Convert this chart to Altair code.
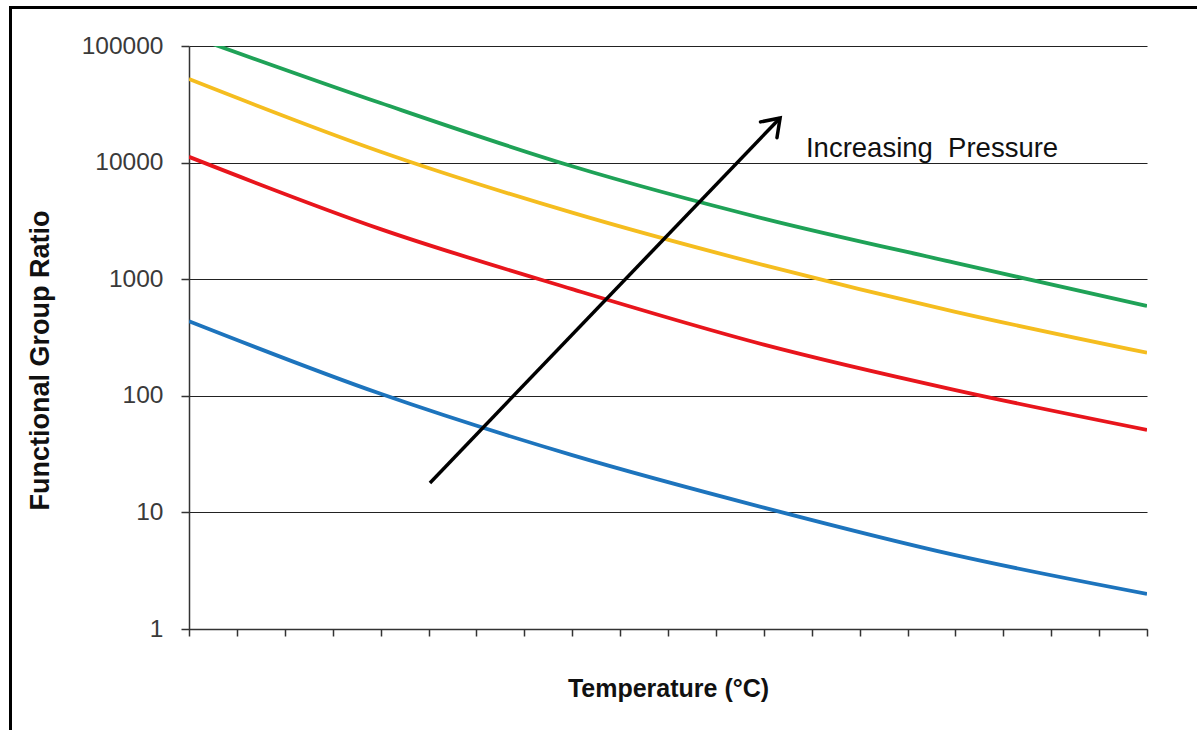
import altair as alt
import pandas as pd

# ---- data ----
temp_idx = [0, 4, 8, 12, 16, 20]
green = [123000, 32400, 9300, 3310, 1380, 590]
yellow = [52100, 12400, 3720, 1320, 525, 234]
red = [11200, 2690, 822, 275, 112, 51]
blue = [436, 104, 31, 11, 4.3, 2.0]

series_names = ["s4", "s3", "s2", "s1"]
series_colors = ["#1fa257", "#f5bd1f", "#e8151c", "#1d74bd"]

x_ticks = list(range(0, 21))
y_ticks = [1, 10, 100, 1000, 10000, 100000]

arrow_x = [5.03, 12.34]
arrow_y = [17.9, 24150]
arrow_angle = [43.8]

label_text = ["Increasing\u00a0 Pressure"]
label_x = [12.88]
label_y = [11170]

rows = []
for name, vals in zip(series_names, [green, yellow, red, blue]):
    for t, v in zip(temp_idx, vals):
        rows.append({"series": name, "t": t, "v": v})
df = pd.DataFrame(rows)

FONT = "Liberation Sans"

xscale = alt.Scale(domain=[0, 20], nice=False, zero=False)
yscale = alt.Scale(type="log", domain=[1, 100000], nice=False)

lines = alt.Chart(df).mark_line(strokeWidth=3.8, clip=True, interpolate="monotone").encode(
    x=alt.X("t:Q", scale=xscale,
            axis=alt.Axis(values=x_ticks, labels=False, grid=False, tickSize=7,
                          tickColor="#333", tickWidth=1.5, domainColor="#333", domainWidth=1.5,
                          title="Temperature (\u00b0C)", titleFont=FONT, titleFontSize=25,
                          titleFontWeight="bold", titleColor="#111", titlePadding=40)),
    y=alt.Y("v:Q", scale=yscale,
            axis=alt.Axis(values=y_ticks, format="d", grid=True, gridColor="#222", gridWidth=1.2,
                          tickSize=8, tickColor="#333", tickWidth=1.5, domainColor="#333",
                          domainWidth=1.5, labelFont=FONT, labelFontSize=24.5, labelColor="#3a3a3a",
                          labelPadding=18,
                          title="Functional Group Ratio", titleFont=FONT, titleFontSize=27,
                          titleFontWeight="bold", titleColor="#111",
                          titleX=-149, titleY=314, titleAngle=-90, titleBaseline="middle",
                          titleAlign="center")),
    color=alt.Color("series:N", scale=alt.Scale(domain=series_names, range=series_colors), legend=None),
)

arrow_df = pd.DataFrame({"ax": arrow_x, "ay": arrow_y})
shaft = alt.Chart(arrow_df).mark_line(color="black", strokeWidth=3.5).encode(
    x=alt.X("ax:Q", scale=xscale), y=alt.Y("ay:Q", scale=yscale)
)
head_df = pd.DataFrame({"ax": [arrow_x[1]], "ay": [arrow_y[1]], "ang": arrow_angle})
head = alt.Chart(head_df).mark_point(
    shape="M-0.57,0.82L0,0L0.57,0.82", filled=False, stroke="black", strokeWidth=3.5,
    opacity=1, size=1600, strokeJoin="miter", strokeCap="round"
).encode(
    x=alt.X("ax:Q", scale=xscale), y=alt.Y("ay:Q", scale=yscale), angle=alt.Angle("ang:Q", scale=None)
)

text_df = pd.DataFrame({"tx": label_x, "ty": label_y, "txt": label_text})
label = alt.Chart(text_df).mark_text(
    align="left", baseline="alphabetic", font=FONT, fontSize=27.5, color="#111"
).encode(x=alt.X("tx:Q", scale=xscale), y=alt.Y("ty:Q", scale=yscale), text="txt:N")

frame = alt.Chart(pd.DataFrame({"a": [0]})).mark_rect(
    fill=None, stroke="black", strokeWidth=3, clip=False
).encode(
    x=alt.value(-178.5), y=alt.value(-38.5), x2=alt.value(1300), y2=alt.value(900)
)

chart = alt.layer(frame, lines, shaft, head, label).properties(
    width=958, height=583,
    padding={"left": 189, "top": 46, "right": 50, "bottom": 101},
    autosize="none",
    background="white",
).configure_view(stroke=None)

chart.save("out.html", embed_options={"renderer": "svg", "actions": False})
